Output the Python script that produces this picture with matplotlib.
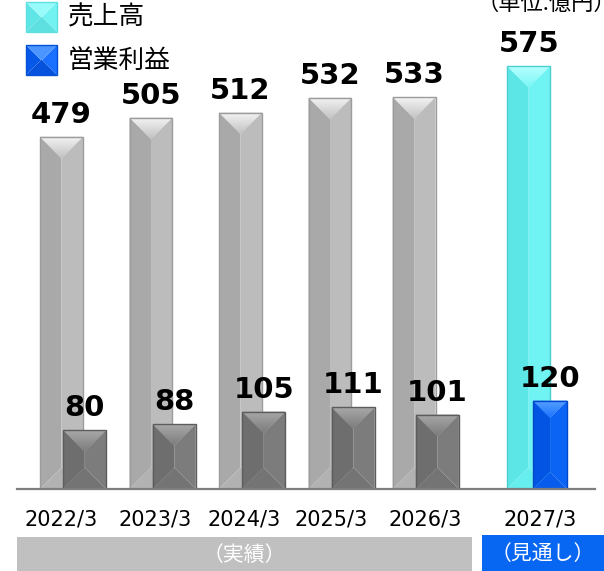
import numpy as np
import matplotlib
matplotlib.use('Agg')
import matplotlib.pyplot as plt
from matplotlib.patches import Polygon, Rectangle
from matplotlib.colors import LinearSegmentedColormap

plt.rcParams['font.family'] = ['DejaVu Sans', 'Noto Sans CJK JP']
JP = ['Noto Sans CJK JP', 'DejaVu Sans']

years = ['2022/3', '2023/3', '2024/3', '2025/3', '2026/3', '2027/3']
sales = [479, 505, 512, 532, 533, 575]
profit = [80, 88, 105, 111, 101, 120]

# layout: bar slots (last one is the forecast, set apart)
slot = np.array([0, 1, 2, 3, 3.94, 5.22])
tick_x = [0, 1.05, 2.04, 3.01, 4.06, 5.35]
sales_w = 0.48
profit_off = [0.26, 0.26, 0.26, 0.26, 0.26, 0.24]
profit_w = [0.48, 0.48, 0.48, 0.48, 0.48, 0.38]

# facet colours: edge, left, right, bottom, top-light, top-dark
GRAY = ('#9c9c9c', '#a9a9a9', '#bcbcbc', '#b2b2b2', '#f4f4f4', '#c2c2c2')
DARK = ('#5c5c5c', '#6e6e6e', '#7c7c7c', '#747474', '#a8a8a8', '#7c7c7c')
CYAN = ('#4ccfcf', '#5de6e6', '#6ff3f3', '#66eded', '#b8ffff', '#78f6f6')
BLUE = ('#0046c8', '#0354e2', '#0c64f4', '#085ceb', '#58a2ff', '#1c72ff')


def bevel(ax, x, y, w, h, cols, z, grad=True):
    """Draw a rectangle with four bevelled facets, sized in screen pixels."""
    edge, left, right, bot, top_l, top_d = cols
    tr = ax.transData
    (l, b), (r, t) = tr.transform([(x, y), (x + w, y + h)])
    b, t = min(b, t), max(b, t)
    d = min(r - l, t - b) / 2
    inv = tr.inverted()

    def poly(pts, fc):
        p = Polygon(inv.transform(pts), closed=True, facecolor=fc,
                    edgecolor='none', zorder=z)
        ax.add_patch(p)
        return p

    poly([(l, b), (l, t), (l + d, t - d), (l + d, b + d)], left)
    poly([(r, b), (r, t), (r - d, t - d), (r - d, b + d)], right)
    poly([(l, b), (r, b), (r - d, b + d), (l + d, b + d)], bot)
    tp = poly([(l, t), (r, t), (r - d, t - d), (l + d, t - d)], top_d)
    if grad:
        cmap = LinearSegmentedColormap.from_list('g', [top_l, top_d])
        (x0, y0), (x1, y1) = inv.transform([(l, t - d), (r, t)])
        im = ax.imshow(np.linspace(0, 1, 64).reshape(-1, 1), cmap=cmap,
                       extent=(x0, x1, y0, y1), origin='upper',
                       aspect='auto', zorder=z + 0.01, interpolation='bilinear')
        im.set_clip_path(tp)
    else:
        tp.set_facecolor(top_l)
    (x0, y0), (x1, y1) = inv.transform([(l, b), (r, t)])
    ax.add_patch(Rectangle((x0, y0), x1 - x0, y1 - y0, facecolor='none',
                           edgecolor=edge, lw=1.0, zorder=z + 0.02))


fig = plt.figure(figsize=(6.04, 5.71), dpi=100)
ax = fig.add_axes([17 / 604, 82 / 571, 578 / 604, 489 / 571])
ax.set_facecolor('none')
ax.set_xlim(-0.497, 5.961)
ax.set_ylim(0, 665)
ax.set_autoscale_on(False)

s_bars = ax.bar(slot, sales, width=sales_w, color='none', zorder=2)
p_bars = ax.bar(slot + profit_off, profit, width=profit_w, color='none', zorder=3)

for i, (sb, pb) in enumerate(zip(s_bars, p_bars)):
    last = i == len(years) - 1
    bevel(ax, sb.get_x(), 0, sb.get_width(), sb.get_height(),
          CYAN if last else GRAY, 2 + i * 0.1)
    bevel(ax, pb.get_x(), 0, pb.get_width(), pb.get_height(),
          BLUE if last else DARK, 3 + i * 0.1)
    for bar, v in ((sb, sales[i]), (pb, profit[i])):
        ax.annotate(str(v), (bar.get_x() + bar.get_width() / 2, v),
                    xytext=(0, 10), textcoords='offset points',
                    ha='center', va='baseline', fontsize=21,
                    fontweight='bold', color='black', zorder=10)

for side in ('top', 'right', 'left'):
    ax.spines[side].set_visible(False)
ax.spines['bottom'].set_color('#7f7f7f')
ax.spines['bottom'].set_linewidth(1.6)
ax.spines['bottom'].set_zorder(5)
ax.set_yticks([])
ax.set_xticks(tick_x, years, fontsize=15)
ax.tick_params(axis='x', length=0, pad=15, colors='black')

# decorations drawn in a pixel frame over the whole figure
deco = fig.add_axes([0, 0, 1, 1], zorder=-1)
deco.set_xlim(0, 604)
deco.set_ylim(571, 0)
deco.set_autoscale_on(False)
deco.axis('off')

deco.add_patch(Rectangle((17, 537), 455, 40, facecolor='#c0c0c0', edgecolor='none'))
deco.add_patch(Rectangle((482, 535), 130, 40, facecolor='#0867f2', edgecolor='none'))
deco.text(244.5, 555, '（実績）', ha='center', va='center', fontsize=15,
          color='white', family=JP)
deco.text(543, 554, '（見通し）', ha='center', va='center', fontsize=15,
          color='white', family=JP)

# legend
bevel(deco, 26, 2, 31, 30, ('#5fe0e0', '#5fe5e5', '#73f2f2', '#5ee0e0', '#98fafa', '#98fafa'),
      1, grad=False)
bevel(deco, 26, 45, 31, 30, ('#0450d8', '#0658e8', '#1a70ff', '#0652dc', '#4a95ff', '#4a95ff'),
      1, grad=False)
deco.text(68, 17, '売上高', ha='left', va='center', fontsize=18.5, family=JP)
deco.text(68, 61, '営業利益', ha='left', va='center', fontsize=18.5, family=JP)

deco.text(616, 10, '（単位:億円）', ha='right', va='baseline', fontsize=16, family=JP)

fig.savefig('out.png', dpi=100)
